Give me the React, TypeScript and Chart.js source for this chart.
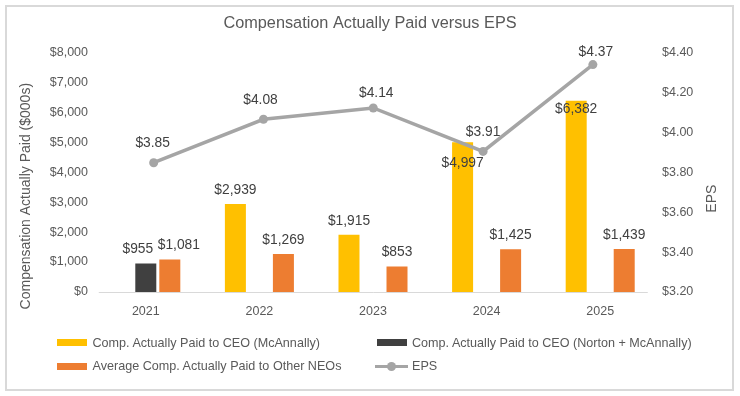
import React, { useEffect, useRef } from 'react';
import { Chart, registerables } from 'chart.js';

Chart.register(...registerables);

// ---- data ----
const categories = ['2021', '2022', '2023', '2024', '2025'];
const ceoMcAnnally: (number | null)[] = [null, 2939, 1915, 4997, 6382];
const ceoNortonMcAnnally: (number | null)[] = [955, null, null, null, null];
const otherNeosAverage: (number | null)[] = [1081, 1269, 853, 1425, 1439];
const eps = [3.85, 4.08, 4.14, 3.91, 4.37];
const compTickValues = [0, 1000, 2000, 3000, 4000, 5000, 6000, 7000, 8000];
const epsTickValues = [3.2, 3.4, 3.6, 3.8, 4.0, 4.2, 4.4];
const seriesNames = [
  'Comp. Actually Paid to CEO (McAnnally)',
  'Comp. Actually Paid to CEO (Norton + McAnnally)',
  'Average Comp. Actually Paid to Other NEOs',
  'EPS',
];
const chartTitle = 'Compensation Actually Paid versus EPS';
const leftAxisTitle = 'Compensation Actually Paid ($000s)';
const rightAxisTitle = 'EPS';

// ---- styles ----
const FONT = '"Liberation Sans", Arial, Helvetica, sans-serif';
const YELLOW = '#FFC000';
const DARK = '#404040';
const ORANGE = '#ED7D31';
const GRAY = '#A5A5A5';
const TEXT = '#595959';
const LABEL = '#404040';

Chart.defaults.font.family = FONT;

const fmtMoney = (v: number) => '$' + v.toLocaleString('en-US');

export default function App() {
  const barRef = useRef<HTMLCanvasElement>(null);
  const lineRef = useRef<HTMLCanvasElement>(null);

  useEffect(() => {
    const barCanvas = barRef.current;
    const lineCanvas = lineRef.current;
    if (!barCanvas || !lineCanvas) return;

    // label nudges (dx, dy from the top of a bar / centre of a point)
    const barNudges: Record<string, [number, number][]> = {
      ceo: [[0, -14], [0, -14], [0, -13], [0, 20.5], [0, 8]],
      norton: [[-8, -14], [0, -14], [0, -14], [0, -14], [0, -14]],
      neo: [[9, -14], [0, -14], [0, -14], [0, -14], [0, -14]],
    };
    const epsNudges: [number, number][] = [[-1, -20], [-3, -19], [3, -15], [0, -19], [3, -12]];

    const barLabelsPlugin = {
      id: 'barLabels',
      afterDatasetsDraw(chart: any) {
        const ctx = chart.ctx;
        ctx.save();
        ctx.font = `13.8px ${FONT}`;
        ctx.fillStyle = LABEL;
        ctx.textAlign = 'center';
        ctx.textBaseline = 'middle';
        const bars: [string, (number | null)[], number][] = [
          ['ceo', ceoMcAnnally, 0],
          ['norton', ceoNortonMcAnnally, 1],
          ['neo', otherNeosAverage, 2],
        ];
        bars.forEach(([key, values, di]) => {
          const meta = chart.getDatasetMeta(di);
          values.forEach((v, i) => {
            if (v == null) return;
            const el = meta.data[i];
            const [dx, dy] = barNudges[key][i];
            ctx.fillText(fmtMoney(v), el.x + dx, el.y + dy);
          });
        });
        ctx.restore();
      },
    };

    const axisTitlesPlugin = {
      id: 'axisTitles',
      afterDraw(chart: any) {
        const ctx = chart.ctx;
        const area = chart.chartArea;
        const midY = (area.top + area.bottom) / 2;
        ctx.save();
        ctx.font = `14px ${FONT}`;
        ctx.fillStyle = TEXT;
        ctx.textAlign = 'center';
        ctx.textBaseline = 'middle';
        ctx.save();
        ctx.translate(26.5, midY + 24);
        ctx.rotate(-Math.PI / 2);
        ctx.fillText(leftAxisTitle, 0, 0);
        ctx.restore();
        ctx.save();
        ctx.translate(712.5, midY + 26.5);
        ctx.rotate(-Math.PI / 2);
        ctx.fillText(rightAxisTitle, 0, 0);
        ctx.restore();
        ctx.restore();
      },
    };

    const tickFont = { family: FONT, size: 12.5 };
    const barCommon = {
      order: 1,
      categoryPercentage: 0.634,
      barPercentage: 0.875,
    };

    const barChart = new Chart(barCanvas, {
      type: 'bar',
      data: {
        labels: categories,
        datasets: [
          { ...barCommon, label: seriesNames[0], data: ceoMcAnnally, backgroundColor: YELLOW },
          { ...barCommon, label: seriesNames[1], data: ceoNortonMcAnnally, backgroundColor: DARK },
          { ...barCommon, label: seriesNames[2], data: otherNeosAverage, backgroundColor: ORANGE },
        ],
      },
      options: {
        responsive: false,
        animation: false,
        devicePixelRatio: 1,
        events: [],
        layout: { padding: { left: 0, right: 0, top: 0, bottom: 0 } },
        plugins: {
          legend: { display: false },
          tooltip: { enabled: false },
          title: {
            display: true,
            text: chartTitle,
            color: TEXT,
            font: { family: FONT, size: 16.3, weight: 'normal' },
            padding: { top: 14, bottom: 18.8 },
          },
        },
        scales: {
          x: {
            type: 'category',
            position: 'bottom',
            grid: { display: false, drawTicks: false },
            border: { display: false },
            ticks: { color: TEXT, font: tickFont, padding: 12, maxRotation: 0 },
            afterFit: (s: any) => { s.height = 104; },
          },
          y: {
            type: 'linear',
            position: 'left',
            min: 0,
            max: 8000,
            grid: { display: false, drawTicks: false },
            border: { display: false },
            ticks: {
              color: TEXT,
              font: tickFont,
              padding: 1,
              callback: (v: any) => fmtMoney(Number(v)),
            },
            afterBuildTicks: (s: any) => {
              s.ticks = compTickValues.map((value) => ({ value }));
              s.min = compTickValues[0];
              s.max = compTickValues[compTickValues.length - 1];
            },
            afterFit: (s: any) => { s.width = 89; },
          },
          y1: {
            type: 'linear',
            position: 'right',
            min: 3.2,
            max: 4.4,
            grid: { display: false, drawTicks: false },
            border: { display: false },
            ticks: {
              color: TEXT,
              font: tickFont,
              padding: 5,
              callback: (v: any) => '$' + Number(v).toFixed(2),
            },
            afterBuildTicks: (s: any) => {
              s.ticks = epsTickValues.map((value) => ({ value }));
              s.min = epsTickValues[0];
              s.max = epsTickValues[epsTickValues.length - 1];
            },
            afterFit: (s: any) => { s.width = 83; },
          },
        },
      } as any,
      plugins: [barLabelsPlugin, axisTitlesPlugin],
    });

    // The EPS line sits on its own slightly inset plot frame (as in the original),
    // drawn by a second chart overlaid on exactly the same plot area.
    const area = barChart.chartArea;
    const lineFrameX = { min: -0.589, max: 4.584 };
    const lineFrameY = { min: 3.1649, max: 4.4347 };

    const baselinePlugin = {
      id: 'baseline',
      beforeDatasetsDraw(chart: any) {
        const x = chart.scales.x;
        const ctx = chart.ctx;
        const yy = Math.round(chart.chartArea.bottom) + 0.5;
        ctx.save();
        ctx.strokeStyle = '#D9D9D9';
        ctx.lineWidth = 1;
        ctx.beginPath();
        ctx.moveTo(x.getPixelForValue(-0.5), yy);
        ctx.lineTo(x.getPixelForValue(categories.length - 0.5), yy);
        ctx.stroke();
        ctx.restore();
      },
    };

    const epsLabelsPlugin = {
      id: 'epsLabels',
      afterDatasetsDraw(chart: any) {
        const ctx = chart.ctx;
        ctx.save();
        ctx.font = `13.8px ${FONT}`;
        ctx.fillStyle = LABEL;
        ctx.textAlign = 'center';
        ctx.textBaseline = 'middle';
        const meta = chart.getDatasetMeta(0);
        eps.forEach((v, i) => {
          const el = meta.data[i];
          const [dx, dy] = epsNudges[i];
          ctx.fillText('$' + v.toFixed(2), el.x + dx, el.y + dy);
        });
        ctx.restore();
      },
    };

    const lineChart = new Chart(lineCanvas, {
      type: 'line',
      data: {
        datasets: [
          {
            label: seriesNames[3],
            data: eps.map((v, i) => ({ x: i, y: v })),
            borderColor: GRAY,
            backgroundColor: GRAY,
            borderWidth: 3.5,
            pointRadius: 4.5,
            pointHoverRadius: 4.5,
            pointBorderWidth: 0,
            pointBackgroundColor: GRAY,
            tension: 0,
            clip: false,
          } as any,
        ],
      },
      options: {
        responsive: false,
        animation: false,
        devicePixelRatio: 1,
        events: [],
        layout: {
          padding: {
            left: area.left,
            right: 740 - area.right,
            top: area.top,
            bottom: 396 - area.bottom,
          },
        },
        plugins: {
          legend: { display: false },
          tooltip: { enabled: false },
          title: { display: false },
        },
        scales: {
          x: {
            type: 'linear',
            display: false,
            offset: false,
            bounds: 'data',
            min: lineFrameX.min,
            max: lineFrameX.max,
            afterBuildTicks: (s: any) => { s.min = lineFrameX.min; s.max = lineFrameX.max; },
          },
          y: {
            type: 'linear',
            display: false,
            bounds: 'data',
            min: lineFrameY.min,
            max: lineFrameY.max,
            afterBuildTicks: (s: any) => { s.min = lineFrameY.min; s.max = lineFrameY.max; },
          },
        },
      } as any,
      plugins: [baselinePlugin, epsLabelsPlugin],
    });

    return () => {
      lineChart.destroy();
      barChart.destroy();
    };
  }, []);

  const legendText: React.CSSProperties = {
    position: 'absolute',
    fontFamily: FONT,
    fontSize: 12.6,
    color: TEXT,
    lineHeight: '16px',
    whiteSpace: 'nowrap',
  };
  const swatch = (left: number, cy: number, color: string): React.CSSProperties => ({
    position: 'absolute',
    left,
    top: cy - 3.5,
    width: 30,
    height: 7,
    background: color,
  });
  const canvasStyle: React.CSSProperties = { position: 'absolute', left: 0, top: 0, width: 740, height: 396 };

  return (
    <div style={{ position: 'absolute', left: 0, top: 0, width: 740, height: 396, background: '#fff' }}>
      <div
        style={{
          position: 'absolute',
          left: 5,
          top: 5,
          width: 729,
          height: 386,
          boxSizing: 'border-box',
          border: '2px solid #D9D9D9',
        }}
      />
      <canvas ref={barRef} width={740} height={396} style={canvasStyle} />
      <canvas ref={lineRef} width={740} height={396} style={canvasStyle} />
      {/* legend */}
      <div style={swatch(57, 342.7, YELLOW)} />
      <div style={{ ...legendText, left: 92.5, top: 342.7 - 8 }}>{seriesNames[0]}</div>
      <div style={swatch(377, 342.7, DARK)} />
      <div style={{ ...legendText, left: 412, top: 342.7 - 8 }}>{seriesNames[1]}</div>
      <div style={swatch(57, 366, ORANGE)} />
      <div style={{ ...legendText, left: 92.5, top: 366 - 8 }}>{seriesNames[2]}</div>
      <div style={{ position: 'absolute', left: 375, top: 364.5, width: 33, height: 3, background: GRAY }} />
      <div
        style={{
          position: 'absolute',
          left: 391.5 - 4.5,
          top: 366 - 4.5,
          width: 9,
          height: 9,
          borderRadius: '50%',
          background: GRAY,
        }}
      />
      <div style={{ ...legendText, left: 412, top: 366 - 8 }}>{seriesNames[3]}</div>
    </div>
  );
}
